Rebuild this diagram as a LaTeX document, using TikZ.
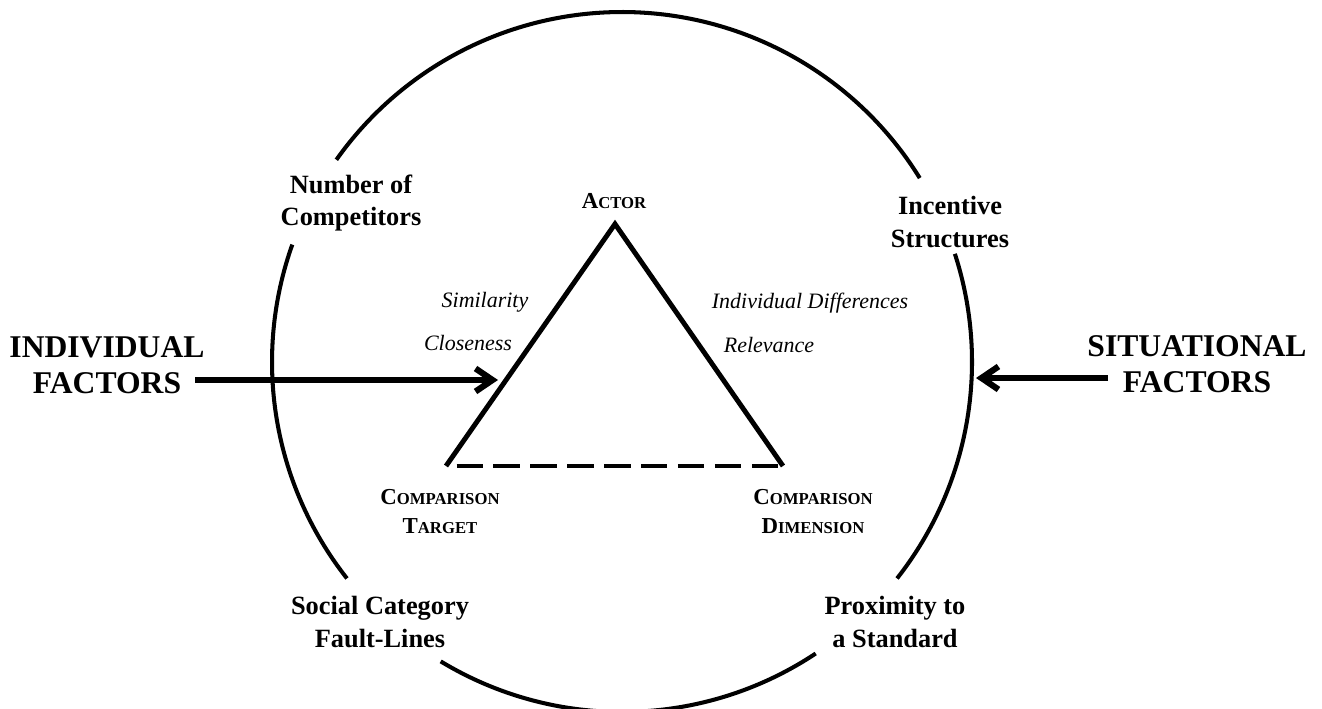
\documentclass[tikz,border=0pt]{standalone}
\usepackage{fontspec}
\setmainfont{Liberation Serif}
\usetikzlibrary{calc,positioning,arrows.meta}
\newcommand{\smcap}[2]{#1{\fontsize{9.5}{10}\selectfont #2}}
\tikzset{
  factor/.style={font=\fontsize{18}{20.5}\selectfont\bfseries, align=center, inner sep=1pt},
  cue/.style={font=\fontsize{15}{18.5}\selectfont\bfseries, align=center, inner sep=1pt},
  corner/.style={font=\fontsize{13}{16.5}\selectfont\bfseries, align=center, inner sep=1pt},
  link/.style={font=\fontsize{12.5}{14}\selectfont\itshape, inner sep=1pt},
  pull/.style={line width=3.5pt, -{Straight Barb[length=3.4mm,width=4.6mm]}}
}
\begin{document}
\begin{tikzpicture}
        \useasboundingbox (0,0) rectangle (26.44,14.16);
        \coordinate (O) at (12.44, 6.92);
        \coordinate (A) at (12.30, 9.68);
        \coordinate (T) at (8.92, 4.84);
        \coordinate (D) at (15.66, 4.84);
        \coordinate (L) at (3.90, 6.56);
        \coordinate (Lin) at (9.96, 6.56);
        \coordinate (R) at (22.16, 6.60);
        \coordinate (Rin) at (19.52, 6.60);

        \draw [line width=2.3pt] (O) ++(31.7:7) arc [start angle=31.7, end angle=144.7, radius=7];
        \draw [line width=2.3pt] (O) ++(160.4:7) arc [start angle=160.4, end angle=218.2, radius=7];
        \draw [line width=2.3pt] (O) ++(238.8:7) arc [start angle=238.8, end angle=303.6, radius=7];
        \draw [line width=2.3pt] (O) ++(321.8:7) arc [start angle=321.8, end angle=378, radius=7];

        \draw [line width=2.8pt, line join=miter] (T) -- (A) -- (D);
        \draw [line width=2.8pt, dash pattern=on 15pt off 6pt, dash phase=15pt] (T) -- (D);

        \draw [pull] (L) -- (Lin);
        \draw [pull] (R) -- (Rin);

        \node [corner] (actor) at (12.28, 10.14) {\smcap{A}{CTOR}};
        \node [corner] (target) at (8.80, 3.92) {\smcap{C}{OMPARISON}\\\smcap{T}{ARGET}};
        \node [corner] (dimension) at (16.26, 3.92) {\smcap{C}{OMPARISON}\\\smcap{D}{IMENSION}};

        \node [link] (similarity) at (9.70, 8.12) {Similarity};
        \node [link] (closeness) at (9.36, 7.30) {Closeness};
        \node [link] (differences) at (16.20, 8.10) {Individual Differences};
        \node [link] (relevance) at (15.38, 7.26) {Relevance};

        \node [cue] (competitors) at (7.02, 10.10) {Number of\\Competitors};
        \node [cue] (incentive) at (19.00, 9.72) {Incentive\\Structures};
        \node [cue] (faultlines) at (7.60, 1.72) {Social Category\\Fault-Lines};
        \node [cue] (standard) at (17.90, 1.72) {Proximity to\\a Standard};

        \node [factor] (individual) at (2.14, 6.86) {INDIVIDUAL\\FACTORS};
        \node [factor] (situational) at (23.94, 6.88) {SITUATIONAL\\FACTORS};
\end{tikzpicture}
\end{document}
